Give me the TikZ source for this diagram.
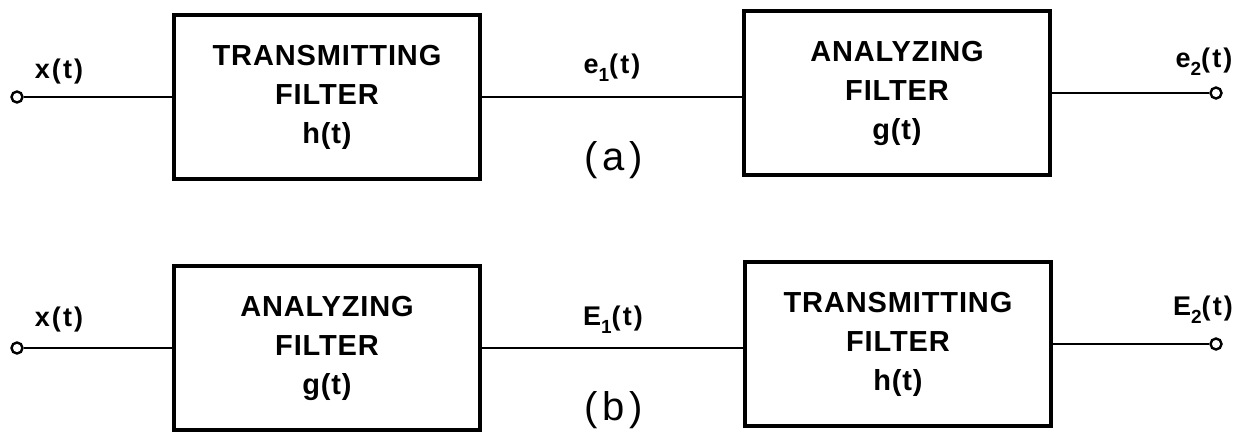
\documentclass[tikz,border=0pt]{standalone}
\usepackage{fontspec}
\setmainfont{Liberation Sans}
\begin{document}
\begin{tikzpicture}[x=1pt,y=-1pt,
  blk/.style={draw, line width=3.5pt, minimum width=306pt, minimum height=164pt, inner sep=0pt,
    align=center, font=\fontsize{29}{39}\selectfont\bfseries\addfontfeatures{LetterSpace=3}},
  wire/.style={line width=2.4pt},
  term/.style={circle, draw, line width=2.4pt, minimum size=11pt, inner sep=0pt},
  sig/.style={font=\fontsize{27}{28}\selectfont\bfseries\addfontfeatures{LetterSpace=8}},
  sub/.style={},
  partlbl/.style={font=\fontsize{40}{42}\selectfont\addfontfeatures{LetterSpace=12}}]
\newcommand{\sbs}[1]{\raisebox{-8pt}{\fontsize{19}{19}\selectfont #1}}
\useasboundingbox (0,0) rectangle (1238,432);
% row (a)
\node[blk] (b1) at (327,97) {TRANSMITTING\\FILTER\\h(t)};
\node[blk] (b2) at (897,93) {ANALYZING\\FILTER\\g(t)};
\node[term] (i1) at (17,97) {};
\node[term] (o1) at (1216,93) {};
\coordinate (m1) at (b1.east -| b2.west);
\draw[wire] (i1) -- (b1.west);
\draw[wire] (b1.east) -- (m1);
\draw[wire] (b2.east) -- (o1);
\node[sig] (lx1) at (59,72) {x(t)};
\node[sig] (le1) at (612,68) {e\sbs{1}(t)};
\node[sig] (le2) at (1204,62) {e\sbs{2}(t)};
\node[partlbl] (la) at (614,160) {(a)};
% row (b)
\node[blk] (b3) at (327,348) {ANALYZING\\FILTER\\g(t)};
\node[blk] (b4) at (898,344) {TRANSMITTING\\FILTER\\h(t)};
\node[term] (i2) at (17,348) {};
\node[term] (o2) at (1216,344) {};
\coordinate (m2) at (b3.east -| b4.west);
\draw[wire] (i2) -- (b3.west);
\draw[wire] (b3.east) -- (m2);
\draw[wire] (b4.east) -- (o2);
\node[sig] (lx2) at (59,320) {x(t)};
\node[sig] (lE1) at (613,320) {E\sbs{1}(t)};
\node[sig] (lE2) at (1203,310) {E\sbs{2}(t)};
\node[partlbl] (lb) at (614,410) {(b)};
\end{tikzpicture}
\end{document}
